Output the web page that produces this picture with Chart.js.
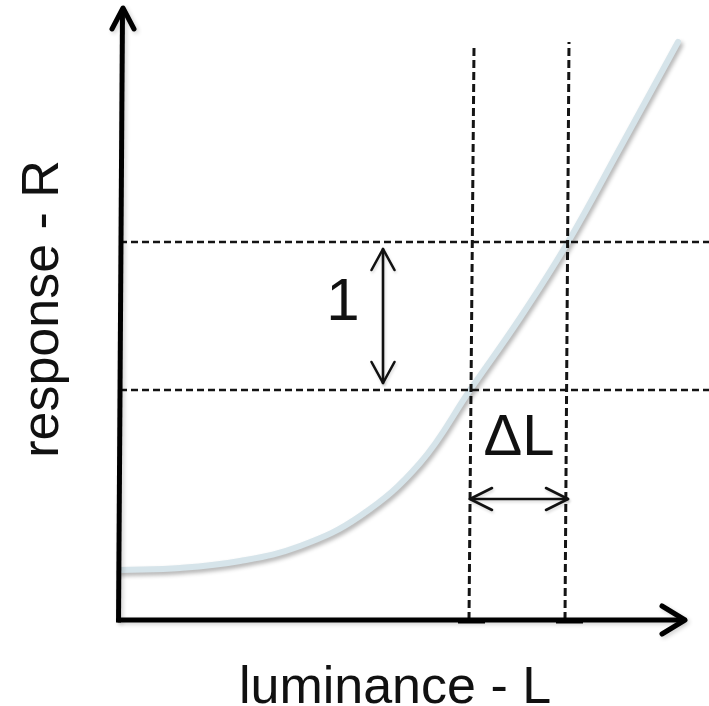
<!DOCTYPE html>
<html>
<head>
<meta charset="utf-8">
<script src="https://cdn.jsdelivr.net/npm/chart.js@4"></script>
<style>
  html, body { margin: 0; padding: 0; background: #ffffff; }
  #wrap { width: 709px; height: 706px; }
</style>
</head>
<body>
<div id="wrap"><canvas id="c" width="709" height="706"></canvas></div>
<script>
// ---- data (arbitrary units) ----
const luminance = [0, 1.2, 2.4, 3.6, 4.8, 6.0, 7.0, 8.0, 8.96, 10.0, 11.16];
const response  = [1.0, 1.04, 1.18, 1.48, 2.08, 3.14, 4.6, 6.04, 7.56, 9.44, 11.56];

const responseLevels = [4.6, 7.56];          // the two response levels (differ by "1")
const luminanceLevels = [7.0, 8.96];         // the luminances that produce them (ΔL apart)
const dashedBottomX = [6.98, 8.9];           // vertical dashed lines, foot on the axis
const dashedTopX = [7.08, 8.98];             // vertical dashed lines, top end
const dashedTops = [11.44, 11.56];           // top ends of the vertical dashed lines

const axisXEnd = 11.3;   // tip of luminance axis arrow
const axisYEnd = 12.24;  // tip of response axis arrow
const deltaRArrowX = 5.26;
const deltaRArrowInset = 0.14;
const deltaLArrowY = 2.42;

const labelOne = "1";
const labelDeltaL = "ΔL";
const xTitle = "luminance - L";
const yTitle = "response - R";

const FONT = "'Liberation Sans', Arial, Helvetica, sans-serif";

// ---- datasets ----
const curve = luminance.map((x, i) => ({ x, y: response[i] }));

const datasets = [];
datasets.push({
  label: 'curve', data: curve, showLine: true, borderColor: '#d6e4ea',
  borderWidth: 6, pointRadius: 0, tension: 0.4,
  borderCapStyle: 'round', order: 10
});
responseLevels.forEach((r, i) => datasets.push({
  label: 'hdash' + i, data: [{ x: 0, y: r }, { x: 11.78, y: r }], showLine: true,
  borderColor: '#141414', borderWidth: 2.6, borderDash: [7, 4], pointRadius: 0, order: 5
}));
luminanceLevels.forEach((l, i) => datasets.push({
  label: 'vdash' + i, data: [{ x: dashedBottomX[i], y: 0 }, { x: dashedTopX[i], y: dashedTops[i] }], showLine: true,
  borderColor: '#141414', borderWidth: 3, borderDash: [8, 4], pointRadius: 0, order: 5
}));
datasets.push({
  label: 'xaxis', data: [{ x: -0.05, y: 0 }, { x: axisXEnd - 0.06, y: 0 }], showLine: true,
  borderColor: '#000', borderWidth: 5, pointRadius: 0, order: 1
});
datasets.push({
  label: 'yaxis', data: [{ x: -0.03, y: -0.05 }, { x: 0.05, y: axisYEnd - 0.06 }], showLine: true,
  borderColor: '#000', borderWidth: 5, pointRadius: 0, order: 1
});
luminanceLevels.forEach((l, i) => datasets.push({
  label: 'tick' + i, data: [{ x: l - 0.24, y: -0.015 }, { x: l + 0.3, y: -0.015 }], showLine: true,
  borderColor: '#000', borderWidth: 5.5, pointRadius: 0, order: 0
}));

// ---- plugin: shadows, arrows, labels ----
function arrowHead(ctx, tx, ty, dx, dy, len, half) {
  const px = -dy, py = dx;
  ctx.beginPath();
  ctx.moveTo(tx - dx * len + px * half, ty - dy * len + py * half);
  ctx.lineTo(tx, ty);
  ctx.lineTo(tx - dx * len - px * half, ty - dy * len - py * half);
  ctx.stroke();
}

const decor = {
  id: 'decor',
  beforeDatasetDraw(chart, args) {
    const lbl = chart.data.datasets[args.index].label;
    const ctx = chart.ctx;
    ctx.save();
    if (lbl === 'curve') {
      ctx.shadowColor = 'rgba(0,0,0,0.30)';
      ctx.shadowBlur = 4; ctx.shadowOffsetX = 2; ctx.shadowOffsetY = 3;
    } else if (lbl === 'xaxis' || lbl === 'yaxis') {
      ctx.shadowColor = 'rgba(0,0,0,0.18)';
      ctx.shadowBlur = 4; ctx.shadowOffsetX = 2; ctx.shadowOffsetY = 2;
    }
  },
  afterDatasetDraw(chart) { chart.ctx.restore(); },
  afterDatasetsDraw(chart) {
    const ctx = chart.ctx, xs = chart.scales.x, ys = chart.scales.y;
    const X = v => xs.getPixelForValue(v), Y = v => ys.getPixelForValue(v);
    ctx.save();
    ctx.lineCap = 'round'; ctx.lineJoin = 'round';

    // axis arrow heads
    ctx.save();
    ctx.shadowColor = 'rgba(0,0,0,0.18)'; ctx.shadowBlur = 4; ctx.shadowOffsetX = 2; ctx.shadowOffsetY = 2;
    ctx.strokeStyle = '#000'; ctx.lineWidth = 5;
    arrowHead(ctx, X(0.06), Y(axisYEnd), 0, -1, 21, 11);
    arrowHead(ctx, X(axisXEnd), Y(0), 1, 0, 23, 14);
    ctx.restore();

    // vertical double arrow (ΔR = 1)
    ctx.save();
    ctx.shadowColor = 'rgba(0,0,0,0.15)'; ctx.shadowBlur = 3; ctx.shadowOffsetX = 1; ctx.shadowOffsetY = 2;
    ctx.strokeStyle = '#111'; ctx.lineWidth = 2.6;
    const ax = X(deltaRArrowX);
    const yTop = Y(responseLevels[1] - deltaRArrowInset), yBot = Y(responseLevels[0] + deltaRArrowInset);
    ctx.beginPath(); ctx.moveTo(ax, yTop); ctx.lineTo(ax, yBot); ctx.stroke();
    arrowHead(ctx, ax, yTop, 0, -1, 21, 11.5);
    arrowHead(ctx, ax, yBot, 0, 1, 21, 11.5);

    // horizontal double arrow (ΔL)
    const ay = Y(deltaLArrowY);
    const xL = X(luminanceLevels[0]), xR = X(luminanceLevels[1]);
    ctx.beginPath(); ctx.moveTo(xL, ay); ctx.lineTo(xR, ay); ctx.stroke();
    arrowHead(ctx, xL, ay, -1, 0, 22, 11);
    arrowHead(ctx, xR, ay, 1, 0, 22, 11);
    ctx.restore();

    // labels
    ctx.fillStyle = '#111';
    ctx.textAlign = 'center'; ctx.textBaseline = 'alphabetic';
    ctx.font = '60px ' + FONT;
    ctx.fillText(labelOne, X(4.46), Y(6.0));
    ctx.font = '58px ' + FONT;
    ctx.fillText(labelDeltaL, X(7.98), Y(3.3));

    // axis titles
    ctx.font = '52px ' + FONT;
    ctx.fillText(xTitle, X(5.5), Y(-1.66));
    ctx.save();
    ctx.translate(X(-1.24), Y(6.22));
    ctx.rotate(-Math.PI / 2);
    ctx.fillText(yTitle, 0, 0);
    ctx.restore();

    ctx.restore();
  }
};

new Chart(document.getElementById('c'), {
  type: 'scatter',
  data: { datasets },
  options: {
    responsive: false,
    animation: false,
    layout: { padding: 0 },
    plugins: { legend: { display: false }, tooltip: { enabled: false } },
    scales: {
      x: { type: 'linear', min: -2.4, max: 11.78, display: false },
      y: { type: 'linear', min: -1.72, max: 12.4, display: false }
    }
  },
  plugins: [decor]
});
</script>
</body>
</html>
